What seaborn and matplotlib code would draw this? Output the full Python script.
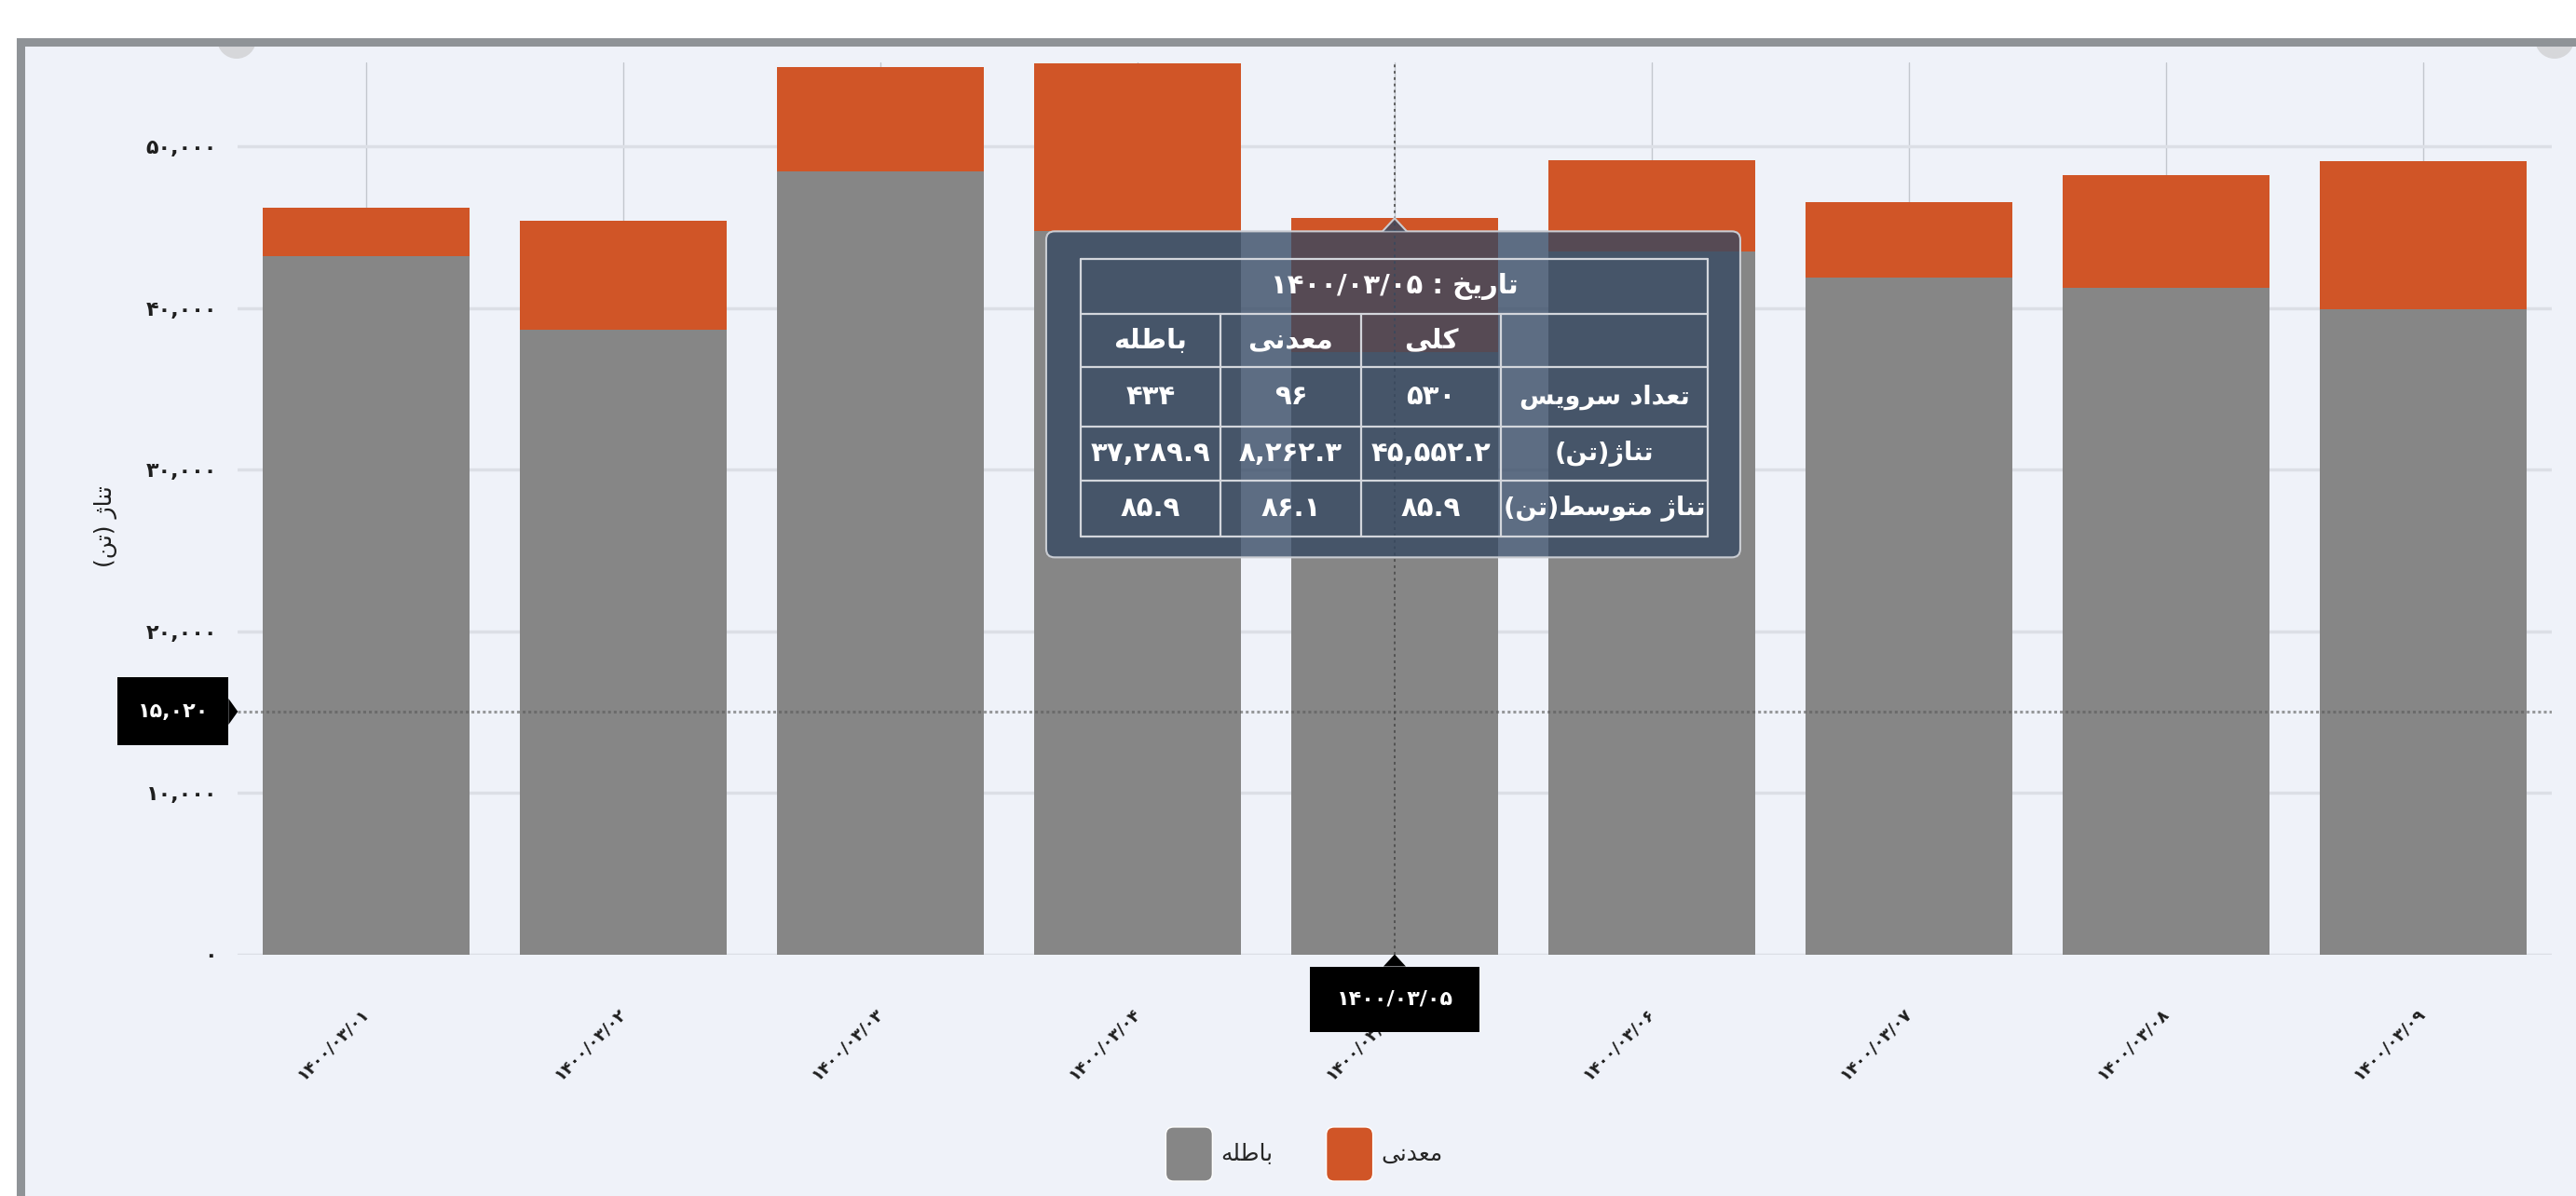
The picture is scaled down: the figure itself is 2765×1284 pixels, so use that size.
import re
import matplotlib
matplotlib.use('Agg')
import matplotlib.pyplot as plt
from matplotlib.patches import FancyBboxPatch, Polygon, Rectangle, Circle, Patch
from matplotlib.legend_handler import HandlerPatch
from matplotlib.transforms import IdentityTransform
from matplotlib.ticker import FuncFormatter
import numpy as np
import pandas as pd
import seaborn as sns

# ---- data ----
dates = ['1400/03/01', '1400/03/02', '1400/03/03', '1400/03/04', '1400/03/05',
         '1400/03/06', '1400/03/07', '1400/03/08', '1400/03/09']
waste = [43200, 38650, 48480, 44750, 37289.9, 43490, 41900, 41260, 39900]   # باطله
ore = [3020, 6770, 6440, 10400, 8262.3, 5660, 4650, 6940, 9170]             # معدنی
series_names = ['باطله', 'معدنی']
y_title = 'تناژ (تن)'
y_ticks = [0, 10000, 20000, 30000, 40000, 50000]

# hover state shown in the screenshot
hover_index = 4
hover_value = 15020
tip_title = 'تاریخ : '
tip_cols = ['باطله', 'معدنی', 'کلی']
tip_rows = ['تعداد سرویس', 'تناژ(تن)', 'تناژ متوسط(تن)']
tip_counts = [434, 96, 530]
tip_tonnage = [37289.9, 8262.3, 45552.2]
tip_mean = [85.9, 86.1, 85.9]

GRAY = '#868686'
ORANGE = '#d05527'
BG = '#eff2f9'

# ---- minimal persian shaping (matplotlib has no complex text layout) ----
FORMS = {
    'ا': ('\uFE8D', '\uFE8E', None, None),
    'ب': ('\uFE8F', '\uFE90', '\uFE91', '\uFE92'),
    'ت': ('\uFE95', '\uFE96', '\uFE97', '\uFE98'),
    'خ': ('\uFEA5', '\uFEA6', '\uFEA7', '\uFEA8'),
    'د': ('\uFEA9', '\uFEAA', None, None),
    'ر': ('\uFEAD', '\uFEAE', None, None),
    'ژ': ('\uFB8A', '\uFB8B', None, None),
    'س': ('\uFEB1', '\uFEB2', '\uFEB3', '\uFEB4'),
    'ط': ('\uFEC1', '\uFEC2', '\uFEC3', '\uFEC4'),
    'ع': ('\uFEC9', '\uFECA', '\uFECB', '\uFECC'),
    'ک': ('\uFB8E', '\uFB8F', '\uFB90', '\uFB91'),
    'ل': ('\uFEDD', '\uFEDE', '\uFEDF', '\uFEE0'),
    'م': ('\uFEE1', '\uFEE2', '\uFEE3', '\uFEE4'),
    'ن': ('\uFEE5', '\uFEE6', '\uFEE7', '\uFEE8'),
    'ه': ('\uFEE9', '\uFEEA', '\uFEEB', '\uFEEC'),
    'و': ('\uFEED', '\uFEEE', None, None),
    'ی': ('\uFBFC', '\uFBFD', '\uFBFE', '\uFBFF'),
}


def fa(s):
    return str(s).translate(str.maketrans('0123456789', '۰۱۲۳۴۵۶۷۸۹'))


def shape(s):
    out = []
    for i, c in enumerate(s):
        if c not in FORMS:
            out.append(c)
            continue
        prev = s[i - 1] if i > 0 else ''
        nxt = s[i + 1] if i + 1 < len(s) else ''
        jp = prev in FORMS and FORMS[prev][2] is not None
        jn = FORMS[c][2] is not None and nxt in FORMS
        f = FORMS[c]
        out.append(f[3] if jp and jn else f[1] if jp else f[2] if jn else f[0])
    return ''.join(out)


def rtl(s):
    s = shape(fa(s))
    tokens = re.findall(r'[0-9\u06F0-\u06F9]+(?:[.,/:][0-9\u06F0-\u06F9]+)*|.', s)
    mirror = {'(': ')', ')': '('}
    return ''.join(mirror.get(t, t) for t in reversed(tokens))


# ---- figure ----
W, H = 2765, 1284
sns.set_theme(style='white')
plt.rcParams['font.family'] = ['DejaVu Sans']
fig = plt.figure(figsize=(W / 100, H / 100), dpi=100)
fig.patch.set_facecolor(BG)
ID = IdentityTransform()


def P(x, y):
    # image pixel (y down) -> display coords
    return (x, H - y)


# container: white strip above/left, grey frame, little grey knobs under the frame
for cx in (254, 2742):
    fig.add_artist(Circle(P(cx, 42), 21, fc='#d6d7da', ec='none', transform=ID, zorder=-4))
fig.add_artist(Rectangle(P(0, 41), W, 41, fc='white', ec='none', transform=ID, zorder=-3))
fig.add_artist(Rectangle(P(0, H), 18, H, fc='white', ec='none', transform=ID, zorder=-3))
fig.add_artist(Rectangle(P(22, H + 20), W + 40, H - 45 + 20, fc='none', ec='#8f9397',
                         lw=6.5, transform=ID, zorder=-1))

ax = fig.add_axes([255.3 / W, 1 - 1024.5 / H, (2738.6 - 255.3) / W, (1024.5 - 67) / H])
ax.set_facecolor(BG)

df = pd.DataFrame({'date': [fa(d) for d in dates], 'waste': waste, 'ore': ore})
df['total'] = df['waste'] + df['ore']

sns.barplot(data=df, x='date', y='total', color=ORANGE, saturation=1, width=0.805,
            linewidth=0, errorbar=None, ax=ax, zorder=2)
sns.barplot(data=df, x='date', y='waste', color=GRAY, saturation=1, width=0.805,
            linewidth=0, errorbar=None, ax=ax, zorder=2)

ax.set_xlim(-0.5, len(dates) - 0.5)
ax.set_ylim(0, 55200)
ax.set_yticks(y_ticks)
ax.yaxis.set_major_formatter(FuncFormatter(lambda v, p: fa(f'{int(v):,}')))
ax.set_axisbelow(True)
ax.grid(axis='y', color='#dcdfe6', lw=2.5)
ax.grid(axis='x', color='#c3c7ce', lw=1)
for sp in ax.spines.values():
    sp.set_visible(False)
ax.tick_params(axis='y', length=0, pad=16, labelsize=16, labelcolor='#1e1e1e')
ax.tick_params(axis='x', length=0, pad=44, labelsize=13, labelcolor='#1e1e1e')
for lab in ax.get_yticklabels():
    lab.set_fontweight('bold')
ax.set_xticks(range(len(dates)))
ax.set_xticklabels([fa(d) for d in dates], rotation=45, ha='right', va='center',
                   rotation_mode='anchor', fontweight='bold')
ax.set_xlabel('')
ax.set_ylabel(rtl(y_title), fontsize=18, color='#1e1e1e')
ax.yaxis.set_label_coords(-0.052, 0.48)

# crosshair
ax.axhline(hover_value, color='#5a5a5a', alpha=0.6, lw=2.2, ls=(0, (1, 1)), zorder=3)
ax.axvline(hover_index, color='#4a4a4a', alpha=0.85, lw=1.4, ls=(0, (1.5, 2)), zorder=3)


# legend with rounded swatches
def rounded(legend, orig_handle, xdescent, ydescent, width, height, fontsize):
    return FancyBboxPatch((-xdescent, -ydescent), width, height,
                          boxstyle='round,pad=0,rounding_size=6')


handles = [Patch(fc=GRAY, label=rtl(series_names[0])), Patch(fc=ORANGE, label=rtl(series_names[1]))]
fig.legend(handles=handles, loc='center', bbox_to_anchor=(1400 / W, 1 - 1239 / H), ncol=2,
           frameon=False, fontsize=18, handlelength=2.0, handleheight=3.2, handletextpad=0.35,
           columnspacing=2.3, handler_map={Patch: HandlerPatch(patch_func=rounded)})

# ---- hover labels (black boxes) ----
hx, hy = ax.transData.transform((hover_index, hover_value))
ax_left, ax_bottom = ax.transAxes.transform((0, 0))
bw, bh = 119, 73
bx1 = ax_left - 10
fig.add_artist(Rectangle((bx1 - bw, hy - bh / 2), bw, bh, fc='black', ec='none', transform=ID, zorder=6))
fig.add_artist(Polygon([(bx1, hy + 14), (ax_left, hy), (bx1, hy - 14)], fc='black', ec='none',
                       transform=ID, zorder=6))
fig.text(bx1 - bw / 2, hy, fa(f'{hover_value:,}'), color='white', fontsize=16, fontweight='bold',
         ha='center', va='center', transform=ID, zorder=7)

xbw, xbh = 182, 70
xtop = ax_bottom - 13
fig.add_artist(Rectangle((hx - xbw / 2, xtop - xbh), xbw, xbh, fc='black', ec='none', transform=ID, zorder=6))
fig.add_artist(Polygon([(hx - 12, xtop), (hx, ax_bottom), (hx + 12, xtop)], fc='black', ec='none',
                       transform=ID, zorder=6))
fig.text(hx, xtop - xbh / 2, fa(dates[hover_index]), color='white', fontsize=16, fontweight='bold',
         ha='center', va='center', transform=ID, zorder=7)

# ---- tooltip ----
tx, ty = ax.transData.transform((hover_index, df['total'][hover_index]))
tip_fc = (52 / 255, 72 / 255, 98 / 255, 0.78)
box_top = ty - 14
box_w, box_h = 745, 350
box_l = tx - 374
fig.add_artist(FancyBboxPatch((box_l, box_top - box_h), box_w, box_h,
                              boxstyle='round,pad=0,rounding_size=9', fc=tip_fc, ec='#c9ccd2',
                              lw=1.5, transform=ID, zorder=8))
fig.add_artist(Polygon([(tx - 13, box_top), (tx, box_top + 14), (tx + 13, box_top)], closed=False,
                       fc=tip_fc, ec='#c9ccd2', lw=1.5, transform=ID, zorder=8))

t_left = box_l + 37
t_top = box_top - 30
col_w = [150, 151, 150, 222]
row_h = [59, 57, 64, 58, 60]
xs = np.concatenate([[t_left], t_left + np.cumsum(col_w)])
ys = np.concatenate([[t_top], t_top - np.cumsum(row_h)])
lc = '#d3d6dc'
for i, y in enumerate(ys):
    fig.add_artist(plt.Line2D([xs[0], xs[-1]], [y, y], color=lc, lw=1.6, transform=ID, zorder=9))
for j, x in enumerate(xs):
    y0 = ys[0] if j in (0, len(xs) - 1) else ys[1]
    fig.add_artist(plt.Line2D([x, x], [y0, ys[-1]], color=lc, lw=1.6, transform=ID, zorder=9))

yc = (ys[:-1] + ys[1:]) / 2
xc = (xs[:-1] + xs[1:]) / 2
tk = dict(color='white', fontsize=21, fontweight='bold', ha='center', va='center',
          transform=ID, zorder=10)
fig.text((xs[0] + xs[-1]) / 2, yc[0], rtl(tip_title + dates[hover_index]), **tk)
for j, name in enumerate(tip_cols):
    fig.text(xc[j], yc[1], rtl(name), **tk)
for i, name in enumerate(tip_rows):
    fig.text(xc[3], yc[2 + i], rtl(name), **{**tk, 'fontsize': 19.5})
for j in range(3):
    fig.text(xc[j], yc[2], fa(f'{tip_counts[j]:,}'), **tk)
    fig.text(xc[j], yc[3], fa(f'{tip_tonnage[j]:,.1f}'), **tk)
    fig.text(xc[j], yc[4], fa(f'{tip_mean[j]:.1f}'), **tk)

fig.savefig('out.png', dpi=100, facecolor=fig.get_facecolor())
